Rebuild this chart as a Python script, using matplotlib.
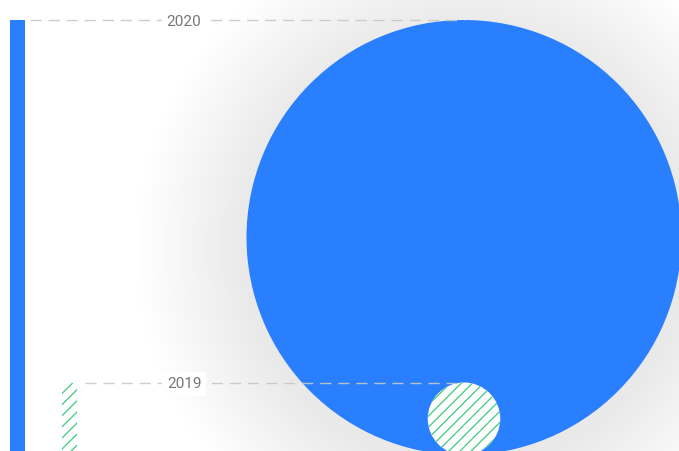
import matplotlib.pyplot as plt
from matplotlib.patches import Circle, Rectangle
import matplotlib as mpl

plt.rcParams['font.family'] = ['Roboto', 'DejaVu Sans']
mpl.rcParams['hatch.linewidth'] = 0.9

years = ["2020", "2019"]
values = [6.0, 1.0]
colors = ["#2a7fff", "#3ccb7f"]
hatches = [None, "///"]

# figure geometry (pixels)
W, H = 679, 451
base_px = 455
scale = (base_px - 20) / values[0]   # pixels per value unit

fig = plt.figure(figsize=(W / 100, H / 100), dpi=100)
ax = fig.add_axes([0, 0, 1, 1])
ax.set_xlim(0, W / scale)
ax.set_ylim((base_px - H) / scale, base_px / scale)
ax.set_aspect("equal")
ax.axis("off")

bar_w = 15 / scale
bar_x = [10 / scale, 62 / scale]
cx = 464 / scale

# soft shadow behind big circle
r0 = values[0] / 2
for k in range(22, 0, -1):
    ax.add_patch(Circle((cx, r0 - 10 / scale), r0 + k * 5 / scale,
                        color="#000000", alpha=0.0045, lw=0, zorder=1))

for i, (yr, v) in enumerate(zip(years, values)):
    c = colors[i]
    h = hatches[i]
    if h:
        ax.add_patch(Rectangle((bar_x[i], 0), bar_w, v, facecolor="white",
                               edgecolor=c, hatch=h, lw=0, zorder=3))
        ax.add_patch(Circle((cx, v / 2), v / 2, facecolor="white",
                            edgecolor=c, hatch=h, lw=0, zorder=4))
    else:
        ax.add_patch(Rectangle((bar_x[i], 0), bar_w, v, color=c, lw=0, zorder=3))
        ax.add_patch(Circle((cx, v / 2), v / 2, color=c, lw=0, zorder=2))
    x0 = bar_x[i] + bar_w + (5 if i == 0 else 8) / scale
    ax.plot([x0, cx], [v, v], color="#c8c8c8", lw=1, ls=(0, (8, 5)),
            alpha=0.9, zorder=5)
    ax.text(184 / scale, v, yr, ha="center", va="center_baseline", fontsize=11,
            color="#757575", zorder=6,
            bbox=dict(boxstyle="square,pad=0.3", fc="white", ec="none"))

fig.savefig("out.png", dpi=100)
